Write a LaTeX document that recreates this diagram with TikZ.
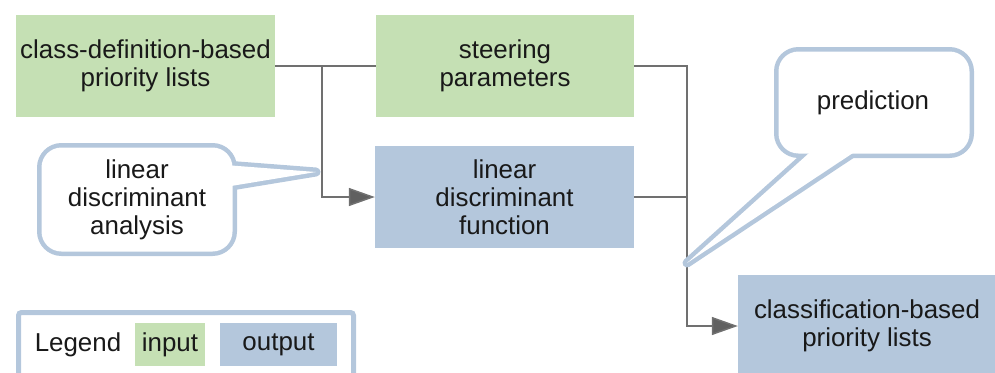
\documentclass[tikz,border=0pt]{standalone}
\usepackage{fontspec}
\setmainfont{Liberation Sans}
\usepackage{tikz}
\usetikzlibrary{arrows.meta}
\usetikzlibrary{calc}

\definecolor{ingreen}{HTML}{C5E0B4}
\definecolor{outblue}{HTML}{B4C7DC}
\definecolor{linegray}{HTML}{707070}
\definecolor{tipgray}{HTML}{606060}

\tikzset{
	txt/.style={align=center, text=black!90, font=\fontsize{25.9}{28}\selectfont},
	box/.style={txt, inner sep=0pt, minimum width=258pt, minimum height=102pt},
	inbox/.style={box, fill=ingreen},
	outbox/.style={box, fill=outblue},
	link/.style={draw=linegray, line width=1.5pt},
	arrowlink/.style={link, -{Triangle[length=26pt, width=18pt, fill=tipgray]}},
	bubble/.style={draw=outblue, line width=9pt, line join=round}
}

\begin{document}
\begin{tikzpicture}[x=1pt, y=-1pt]

	\useasboundingbox (0,0) rectangle (995,372);
	\clip (0,0) rectangle (995,372);

	\node[inbox, minimum width=259pt] (cdp) at (145.5,66) {class-definition-based\\priority lists};
	\node[inbox] (steer) at (505,66) {steering\\parameters};
	\node[outbox, minimum width=259pt] (ldf) at (504.5,197) {linear\\discriminant\\function};
	\node[outbox] (cbp) at (867,326) {classification-based\\priority lists};

	\coordinate (split) at (322,66);
	\coordinate (merge) at (687,197);

	\draw[link] (cdp) -- (steer);
	\draw[arrowlink] (split) |- (ldf);
	\draw[link] (steer) -| (merge);
	\draw[link] (ldf) -- (merge);
	\draw[arrowlink] (merge) |- (cbp);

	% callouts: thick outline first, white inside on top
	\coordinate (ldaTip) at (316,172);
	\coordinate (predTip) at (687,263);

	\draw[bubble, rounded corners=20pt] (41.5,147.5) rectangle (232.5,251.5);
	\draw[bubble] (ldaTip) -- (225,165) -- (225,187) -- cycle;
	\fill[white, rounded corners=20pt] (41.5,147.5) rectangle (232.5,251.5);
	\fill[white] (ldaTip) -- (225,165) -- (225,187) -- cycle;
	\node[txt] (lda) at (137,200) {linear\\discriminant\\analysis};

	\draw[bubble, rounded corners=20pt] (778.5,51.5) rectangle (969.5,153.5);
	\draw[bubble] (predTip) -- (818,145) -- (865,145) -- cycle;
	\fill[white, rounded corners=20pt] (778.5,51.5) rectangle (969.5,153.5);
	\fill[white] (predTip) -- (818,145) -- (865,145) -- cycle;
	\node[txt] (pred) at (873,103) {prediction};

	% legend
	\draw[outblue, line width=5pt, rounded corners=3pt] (18.5,312.5) rectangle (353.5,400);
	\node[txt] (legend) at (78,345) {Legend};
	\node[txt, fill=ingreen, inner sep=0pt, minimum width=70pt, minimum height=43pt] (inkey) at (170,344.5) {input};
	\node[txt, fill=outblue, inner sep=0pt, minimum width=117pt, minimum height=43pt] (outkey) at (278.5,344.5) {output};

\end{tikzpicture}
\end{document}
